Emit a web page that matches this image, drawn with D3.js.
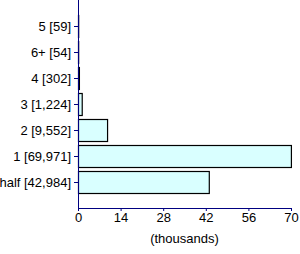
<!DOCTYPE html>
<html>
<head>
<meta charset="utf-8">
<script src="https://cdn.jsdelivr.net/npm/d3@7"></script>
<style>
  body { margin: 0; background: #fff; }
  text { font-family: "Liberation Sans", Arial, sans-serif; }
</style>
</head>
<body>
<svg id="chart" width="300" height="254"></svg>
<script>
var categories = ["5", "6+", "4", "3", "2", "1", "half"];
var counts = [59, 54, 302, 1224, 9552, 69971, 42984];
var xTicks = [0, 14, 28, 42, 56, 70];
var xTitle = "(thousands)";

var margin = { top: 0, left: 78 },
    width = 213,
    height = 208;

var svg = d3.select("#chart"),
    g = svg.append("g").attr("transform", "translate(" + margin.left + "," + margin.top + ")");

var x = d3.scaleLinear().domain([0, 70]).range([0, width]);
var y = d3.scalePoint().domain(categories).range([0, height]).padding(1);

var fmt = d3.format(",");
var barH = 22;

// bars
g.selectAll(".bar")
    .data(categories)
  .enter().append("rect")
    .attr("class", "bar")
    .attr("x", 0.5)
    .attr("y", function (d) { return y(d) - barH / 2 + 0.5; })
    .attr("width", function (d, i) { return x(counts[i] / 1000); })
    .attr("height", barH)
    .attr("fill", "#d9ffff")
    .attr("stroke", "#000")
    .attr("stroke-width", 1.2);

// y axis
var yAxis = d3.axisLeft(y)
    .tickSize(4)
    .tickPadding(3)
    .tickFormat(function (d, i) { return d + " [" + fmt(counts[i]) + "]"; });

var ya = g.append("g").call(yAxis);
ya.select(".domain").attr("d", "M0.5,0V" + (height + 0.5));
ya.selectAll("line, path").attr("stroke", "#000080");
ya.selectAll("text").attr("font-size", 13).attr("fill", "#000");

// x axis
var xAxis = d3.axisBottom(x).tickValues(xTicks).tickSize(3).tickPadding(2);
var xa = g.append("g").attr("transform", "translate(0," + height + ")").call(xAxis);
xa.select(".domain").attr("d", "M0.5,0.5H" + (width + 0.5));
xa.selectAll("line, path").attr("stroke", "#000080");
xa.selectAll("text").attr("font-size", 13).attr("fill", "#000");

g.append("text")
    .attr("x", width / 2)
    .attr("y", height + 35)
    .attr("text-anchor", "middle")
    .attr("font-size", 13)
    .text(xTitle);
</script>
</body>
</html>
